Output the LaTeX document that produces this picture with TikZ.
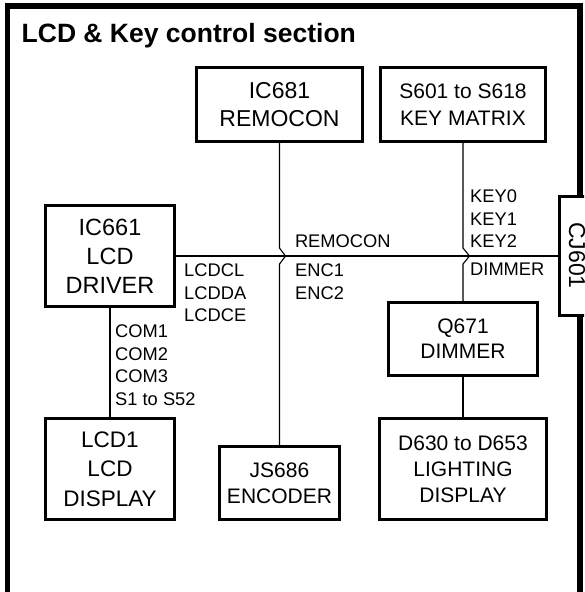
\documentclass[tikz,border=0pt]{standalone}
\usepackage{fontspec}
\setmainfont{Liberation Sans}
\begin{document}
\begin{tikzpicture}[x=1pt,y=-1pt,
  box/.style={draw, line width=2.6pt, inner sep=0pt, align=center, fill=white},
  wire/.style={line width=1.1pt},
  sig/.style={anchor=north west, inner sep=0pt, align=left, font=\fontsize{18.3}{22.5}\selectfont}]
\useasboundingbox (0,0) rectangle (584,592);
\clip (0,0) rectangle (584,592);
% frame
\draw[line width=5.5pt, line join=miter] (7.5,600) -- (7.5,6) -- (580,6) -- (580,600);
% title
\node[anchor=base west, inner sep=0pt, font=\bfseries\fontsize{26.5}{30}\selectfont] (title) at (21.5,42) {LCD \& Key control section};
% boxes
\node[box, minimum width=165.5pt, minimum height=74.5pt, font=\fontsize{23}{28}\selectfont] (rem) at (279.5,104.5) {IC681\\REMOCON};
\node[box, minimum width=165.5pt, minimum height=74.5pt, font=\fontsize{21}{27}\selectfont] (key) at (463,104.5) {S601 to S618\\KEY MATRIX};
\node[box, minimum width=129.5pt, minimum height=101.5pt, font=\fontsize{23.5}{29}\selectfont] (drv) at (110,256) {IC661\\LCD\\DRIVER};
\node[box, minimum width=149.5pt, minimum height=73.5pt, font=\fontsize{21}{25}\selectfont] (dim) at (463,339) {Q671\\DIMMER};
\node[box, minimum width=129.5pt, minimum height=101.5pt, font=\fontsize{22.5}{29.5}\selectfont] (lcd) at (110,469) {LCD1\\LCD\\DISPLAY};
\node[box, minimum width=119.5pt, minimum height=73.5pt, font=\fontsize{21}{26}\selectfont] (enc) at (279.5,483) {JS686\\ENCODER};
\node[box, minimum width=166.5pt, minimum height=101.5pt, font=\fontsize{21}{26}\selectfont] (led) at (463,469) {D630 to D653\\LIGHTING\\DISPLAY};
\node[box, minimum width=60pt, minimum height=118.5pt, anchor=west] (cj) at (558.3,256) {};
\node[rotate=-90, inner sep=0pt, font=\fontsize{23}{26}\selectfont] (cjt) at (577,255.5) {CJ601};
% wires
\coordinate (ka) at (279.5,248);
\coordinate (kt) at (285.5,256);
\coordinate (kb) at (279.5,264);
\coordinate (ma) at (463,248);
\coordinate (mt) at (469.5,256);
\coordinate (mb) at (463,264);
\draw[wire] (drv.east) -- (cj.west);
\draw[wire] (rem.south) -- (ka) -- (kt) -- (kb) -- (enc.north);
\draw[wire] (key.south) -- (ma) -- (mt) -- (mb) -- (dim.north);
\draw[wire] (dim.south) -- (led.north);
\draw[wire] (drv.south) -- (lcd.north);
% signal labels
\node[sig] (lkey) at (470,190) {KEY0\\KEY1\\KEY2};
\node[sig] (ldim) at (470,263) {DIMMER};
\node[sig] (lrem) at (294.8,235) {REMOCON};
\node[sig] (lenc) at (295,264) {ENC1\\ENC2};
\node[sig] (llcd) at (184,264) {LCDCL\\LCDDA\\LCDCE};
\node[sig] (lcom) at (115,325) {COM1\\COM2\\COM3\\S1 to S52};
\end{tikzpicture}
\end{document}
